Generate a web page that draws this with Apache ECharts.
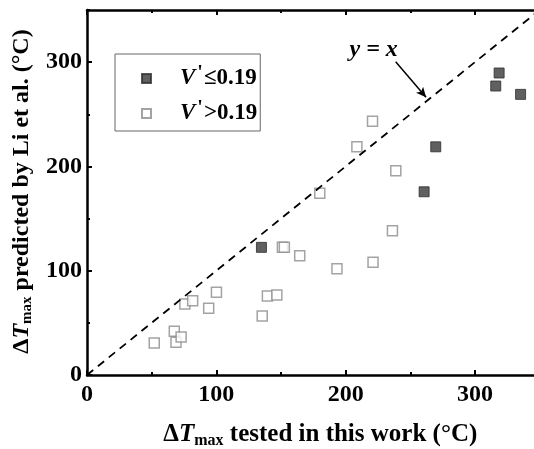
<!DOCTYPE html>
<html>
<head>
<meta charset="utf-8">
<script src="https://cdn.jsdelivr.net/npm/echarts@6/dist/echarts.min.js"></script>
<style>html,body{margin:0;padding:0;background:#fff}#c{width:534px;height:449px}</style>
</head>
<body>
<div id="c"></div>
<script>
// ---- data ----
const lowX  = [134.9, 260.7, 269.7, 316.1, 318.7, 335.3];
const lowY  = [122.4, 175.7, 218.8, 277.1, 289.6, 269.1];
const highX = [52.0, 67.5, 68.8, 72.8, 75.7, 81.7, 94.1, 100.1, 135.5, 139.5, 146.8, 151.1, 152.6, 164.5, 180.0, 193.3, 208.7, 220.8, 221.2, 236.2, 238.8];
const highY = [30.7, 41.9, 31.3, 36.4, 68.1, 71.1, 64.0, 79.3, 56.5, 75.7, 76.8, 122.4, 122.4, 114.3, 174.2, 101.9, 218.8, 243.4, 108.1, 138.4, 195.9];
const refLineX = [0, 350];
const refLineY = [0, 350];
const axisMin = 0, axisMax = 350, majorStep = 100, minorStep = 50;
const legendNames = ["low", "high"];
const arrowFrom = [238.7, 300.4];
const arrowTo = [262.2, 266.3];
const annotText = "y = x";
const annotAt = [221.7, 311.6];

const serif = '"Liberation Serif","Times New Roman",serif';
const toPairs = (xs, ys) => xs.map((x, i) => [x, ys[i]]);

function mkX(pos, step, len, showLabel, showLine) {
  return {
    type: 'value', position: pos, min: axisMin, max: axisMax, interval: step,
    axisLine: {show: showLine, onZero: false, lineStyle: {color: '#000', width: 2.5}},
    axisTick: {show: true, inside: true, length: len, lineStyle: {color: '#000', width: 2}},
    axisLabel: {show: showLabel, showMaxLabel: false, margin: 8, color: '#000', fontFamily: serif, fontWeight: 'bold', fontSize: 24},
    splitLine: {show: false}
  };
}
const xAxes = [mkX('bottom', majorStep, 5, true, true), mkX('bottom', minorStep, 3, false, false),
               mkX('top', majorStep, 5, false, true), mkX('top', minorStep, 3, false, false)];
const yAxes = [mkX('left', majorStep, 5, true, true), mkX('left', minorStep, 3, false, false),
               mkX('right', majorStep, 5, false, true), mkX('right', minorStep, 3, false, false)];
yAxes.forEach(a => { a.axisLabel.margin = 5; });

function mkRich(fs, ss, pad) {
  return {
    d: {fontFamily: serif, fontWeight: 'bold', fontSize: fs, color: '#000'},
    t: {fontFamily: serif, fontWeight: 'bold', fontStyle: 'italic', fontSize: fs, color: '#000'},
    s: {fontFamily: serif, fontWeight: 'bold', fontSize: ss, color: '#000', padding: [pad, 0, 0, 0]},
    n: {fontFamily: serif, fontWeight: 'bold', fontSize: fs, color: '#000'}
  };
}
xAxes[0].name = '{d|Δ}{t|T}{s|max}{n| tested in this work (°C)}';
xAxes[0].nameLocation = 'middle';
xAxes[0].nameGap = 45;
xAxes[0].nameTextStyle = {padding: [0, 0, 0, 14], rich: mkRich(25, 16, 13)};
yAxes[0].name = '{d|Δ}{t|T}{s|max}{n| predicted by Li et al. (°C)}';
yAxes[0].nameLocation = 'middle';
yAxes[0].nameGap = 52;
yAxes[0].nameTextStyle = {padding: [0, 0, 0, 2], rich: mkRich(24, 15, 12)};

const chart = echarts.init(document.getElementById('c'), null, {renderer: 'canvas'});
chart.setOption({
  animation: false,
  backgroundColor: '#fff',
  grid: {left: 87, top: 10, right: -5.6, bottom: 74, containLabel: false, outerBoundsMode: 'none'},
  xAxis: xAxes,
  yAxis: yAxes,
  legend: {
    orient: 'vertical', left: 115, top: 54,
    data: legendNames,
    itemWidth: 9, itemHeight: 9, itemGap: 9,
    padding: [10, 3, 6, 26],
    borderColor: '#666', borderWidth: 1, backgroundColor: '#fff',
    formatter: n => n === 'low' ? '{v|V}{p|\'}{n|≤0.19}' : '{v|V}{p|\'}{n|>0.19}',
    textStyle: {
      padding: [0, 0, 0, 24],
      rich: {
        v: {fontFamily: serif, fontWeight: 'bold', fontStyle: 'italic', fontSize: 23, color: '#000'},
        p: {fontFamily: serif, fontWeight: 'bold', fontSize: 20, color: '#000', padding: [0, 1, 9, 2]},
        n: {fontFamily: serif, fontWeight: 'bold', fontSize: 23, color: '#000'}
      }
    }
  },
  series: [
    {
      name: 'ref', type: 'line', data: toPairs(refLineX, refLineY), symbol: 'none',
      lineStyle: {color: '#000', width: 1.8, type: [8, 6]}, silent: true,
      markLine: {
        silent: true, animation: false,
        symbol: ['none', 'arrow'], symbolSize: [7, 10],
        lineStyle: {color: '#000', width: 1.5, type: 'solid'},
        label: {show: false},
        data: [[{coord: arrowFrom}, {coord: arrowTo}]]
      }
    },
    {
      name: 'low', type: 'scatter', symbol: 'rect', symbolSize: 10,
      itemStyle: {color: '#383838', borderColor: '#2e2e2e', borderWidth: 1},
      data: toPairs(lowX, lowY)
    },
    {
      name: 'high', type: 'scatter', symbol: 'rect', symbolSize: 10,
      itemStyle: {color: '#fff', borderColor: '#8c8c8c', borderWidth: 1.5},
      data: toPairs(highX, highY)
    }
  ]
});

const ap = chart.convertToPixel({gridIndex: 0}, annotAt);
chart.setOption({
  graphic: [{
    type: 'text', x: ap[0], y: ap[1], silent: true,
    style: {text: annotText, fontFamily: serif, fontWeight: 'bold', fontStyle: 'italic', fontSize: 24,
            fill: '#000', align: 'center', verticalAlign: 'middle'}
  }]
});
</script>
</body>
</html>
